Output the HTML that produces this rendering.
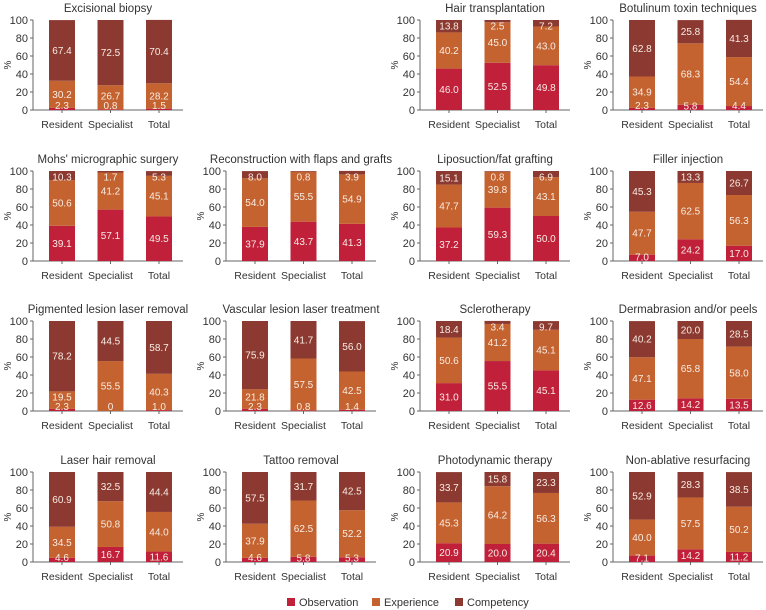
<!DOCTYPE html>
<html><head><meta charset="utf-8"><style>
body{margin:0;background:#fff;}
svg{display:block;font-family:"Liberation Sans",sans-serif;}
</style></head><body>
<svg id="chart" width="766" height="610" viewBox="0 0 766 610"></svg>
<script>
const groups = ["Resident","Specialist","Total"];
const seriesNames = ["Observation","Experience","Competency"];
const yTicks = [0,20,40,60,80,100];
const titles = ["Excisional biopsy",null,"Hair transplantation","Botulinum toxin techniques",
"Mohs' micrographic surgery","Reconstruction with flaps and grafts","Liposuction/fat grafting","Filler injection",
"Pigmented lesion laser removal","Vascular lesion laser treatment","Sclerotherapy","Dermabrasion and/or peels",
"Laser hair removal","Tattoo removal","Photodynamic therapy","Non-ablative resurfacing"];
const observation = [[2.3,0.8,1.5],null,[46.0,52.5,49.8],[2.3,5.8,4.4],
[39.1,57.1,49.5],[37.9,43.7,41.3],[37.2,59.3,50.0],[7.0,24.2,17.0],
[2.3,0,1.0],[2.3,0.8,1.4],[31.0,55.5,45.1],[12.6,14.2,13.5],
[4.6,16.7,11.6],[4.6,5.8,5.3],[20.9,20.0,20.4],[7.1,14.2,11.2]];
const experience = [[30.2,26.7,28.2],null,[40.2,45.0,43.0],[34.9,68.3,54.4],
[50.6,41.2,45.1],[54.0,55.5,54.9],[47.7,39.8,43.1],[47.7,62.5,56.3],
[19.5,55.5,40.3],[21.8,57.5,42.5],[50.6,41.2,45.1],[47.1,65.8,58.0],
[34.5,50.8,44.0],[37.9,62.5,52.2],[45.3,64.2,56.3],[40.0,57.5,50.2]];
const competency = [[67.4,72.5,70.4],null,[13.8,2.5,7.2],[62.8,25.8,41.3],
[10.3,1.7,5.3],[8.0,0.8,3.9],[15.1,0.8,6.9],[45.3,13.3,26.7],
[78.2,44.5,58.7],[75.9,41.7,56.0],[18.4,3.4,9.7],[40.2,20.0,28.5],
[60.9,32.5,44.4],[57.5,31.7,42.5],[33.7,15.8,23.3],[52.9,28.3,38.5]];
const colors = ["#c0203a","#c4632f","#8c3a31"];

const NS="http://www.w3.org/2000/svg";
const svg=document.getElementById('chart');
function mk(tag,attrs,parent,text){const e=document.createElementNS(NS,tag);for(const k in attrs)e.setAttribute(k,attrs[k]);if(text!==undefined)e.textContent=text;(parent||svg).appendChild(e);return e;}
const colX=[33,226,420,613];
const rowTop=[20,171,321,472];
const plotH=90;
const slug=s=>s.toLowerCase().replace(/[^a-z0-9]+/g,'-').replace(/^-|-$/g,'');
titles.forEach((t,i)=>{
  if(!t) return;
  const ax=colX[i%4], top=rowTop[Math.floor(i/4)], bot=top+plotH;
  const y=v=>bot-v/100*plotH;
  const xc=j=>ax+29+j*48.5;
  const g=mk('g',{});
  
  
  const tt=mk('text',{x:ax+75,y:top-8,'text-anchor':'middle','font-size':'11.5',fill:'#333'},g,t);
  
  
  const yl=mk('text',{transform:`translate(${ax-22},${top+plotH/2}) rotate(-90)`,'text-anchor':'middle','font-size':'10',fill:'#333'},g,'%');
  
  
  yTicks.forEach(v=>{
    mk('line',{x1:ax-3,x2:ax,y1:y(v),y2:y(v),stroke:'#666','stroke-width':1},g);
    const tl=mk('text',{x:ax-5,y:y(v)+4,'text-anchor':'end','font-size':'11',fill:'#333'},g,v);
    
    
  });
  mk('line',{x1:ax,x2:ax,y1:top,y2:bot,stroke:'#666'},g);
  mk('line',{x1:ax,x2:ax+150,y1:bot,y2:bot,stroke:'#666'},g);
  groups.forEach((gname,j)=>{
    const vals=[observation[i][j],experience[i][j],competency[i][j]];
    let acc=0;
    const labels=[];
    vals.forEach((v,k)=>{
      const y0=y(acc), y1=y(acc+v);
      const r=mk('rect',{x:xc(j)-13,y:y1,width:26,height:Math.max(0,y0-y1),fill:colors[k]},g);
      
      
      let cy=(y0+y1)/2;
      cy=Math.min(Math.max(cy,y(100)+6),bot-4);
      if(k===0 && v<5) cy=bot-4.5;
      if(k===1 && vals[0]<5) cy=Math.min(cy,bot-14);
      labels.push([cy,v]);
      acc+=v;
    });
    mk('line',{x1:xc(j),x2:xc(j),y1:bot,y2:bot+3,stroke:'#666'},g);
    labels.forEach(([cy,v])=>{
      const lbl=mk('text',{x:xc(j),y:cy+3.5,'text-anchor':'middle','font-size':'10',fill:'#f8ece4'},g,v.toFixed(v===0?0:1));
      
      
    });
    const xl=mk('text',{x:xc(j),y:bot+18,'text-anchor':'middle','font-size':'10.5',fill:'#333'},g,gname);
    
    
  });
});
const legX=[287,372,455];
seriesNames.forEach((n,k)=>{
  const lg=mk('g',{});
  
  
  mk('rect',{x:legX[k],y:598,width:8,height:8,fill:colors[k]},lg);
  mk('text',{x:legX[k]+12,y:606,'font-size':'11',fill:'#333'},lg,n);
});
</script>
</body></html>
